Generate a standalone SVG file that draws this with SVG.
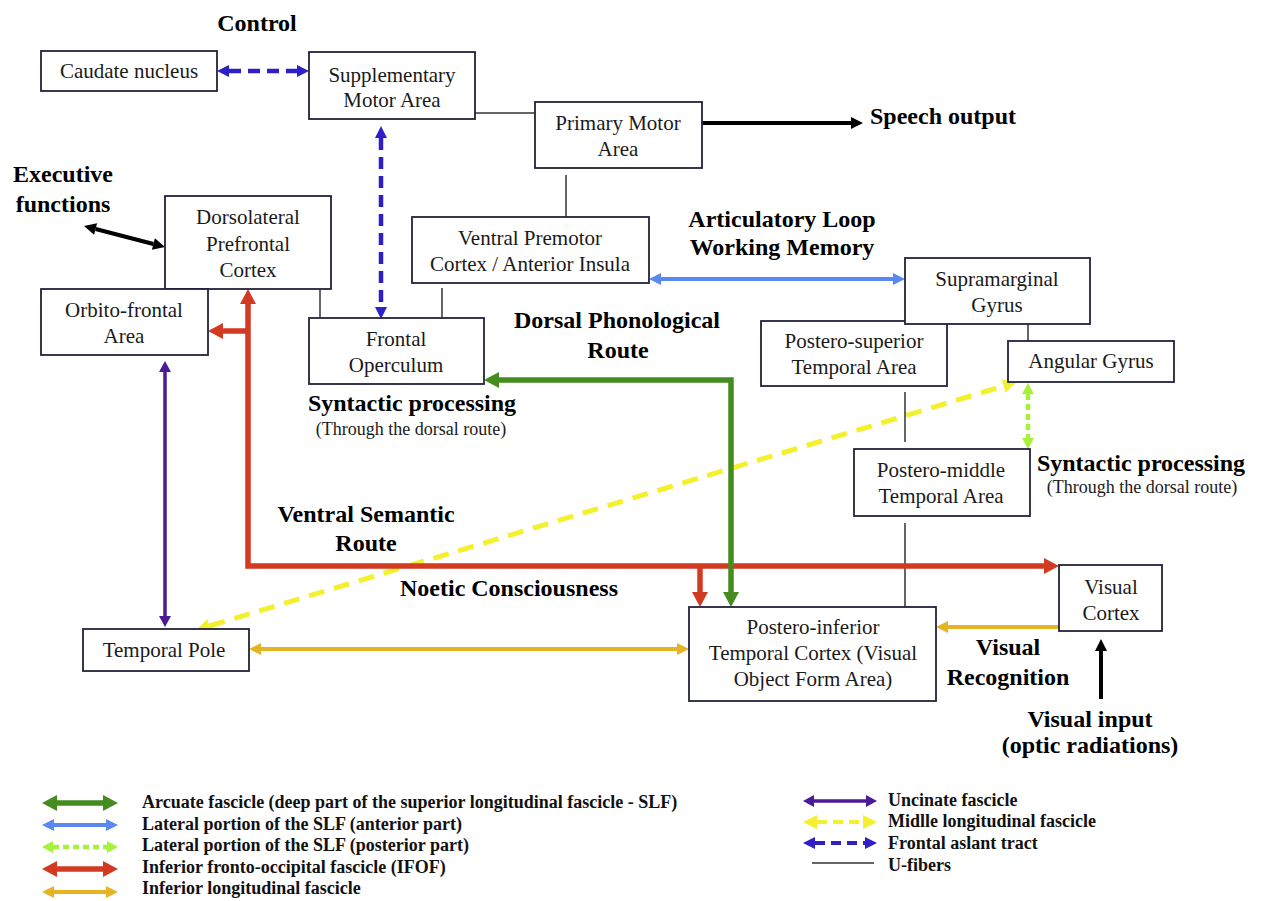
<svg xmlns="http://www.w3.org/2000/svg" width="1264" height="901" viewBox="0 0 1264 901">
<style>
.node rect{fill:#fff;stroke:#22223a;stroke-width:1.8}
.node text{font-family:"Liberation Serif","Times New Roman",serif;font-size:21px;fill:#1a1a1a;text-anchor:middle}
.lbl{font-family:"Liberation Serif","Times New Roman",serif;font-size:24px;font-weight:bold;fill:#000}
.sub{font-family:"Liberation Serif","Times New Roman",serif;font-size:18px;fill:#1a1a1a}
.leg{font-family:"Liberation Serif","Times New Roman",serif;font-size:18px;font-weight:bold;fill:#111}
.mid{text-anchor:middle}
.c{fill:none;stroke-linejoin:miter;stroke-linecap:butt}
.fat{stroke:#2e1fc8;stroke-width:4.5;stroke-dasharray:12 7}
.art{stroke:#5a88f2;stroke-width:4}
.lime{stroke:#a6f23a;stroke-width:4.5;stroke-dasharray:6 4}
.grn{stroke:#458c1e;stroke-width:5.5}
.red{stroke:#d23a22;stroke-width:5.5}
.ora{stroke:#e6b325;stroke-width:4}
.pur{stroke:#4d1a96;stroke-width:3.5}
.yel{stroke:#f4f02e;stroke-width:5;stroke-dasharray:16 10}
.blk{stroke:#000;stroke-width:4}
.uf{stroke:#333;stroke-width:1.5}
</style>
<defs>
<marker id="hFat" markerUnits="userSpaceOnUse" orient="auto-start-reverse" overflow="visible" refX="0" refY="0"><path d="M0,-6 L12,0 L0,6 z" fill="#2e1fc8"/></marker>
<marker id="hArt" markerUnits="userSpaceOnUse" orient="auto-start-reverse" overflow="visible" refX="0" refY="0"><path d="M0,-6 L12,0 L0,6 z" fill="#5a88f2"/></marker>
<marker id="hLime" markerUnits="userSpaceOnUse" orient="auto-start-reverse" overflow="visible" refX="0" refY="0"><path d="M0,-6 L11,0 L0,6 z" fill="#a6f23a"/></marker>
<marker id="hGrn" markerUnits="userSpaceOnUse" orient="auto-start-reverse" overflow="visible" refX="0" refY="0"><path d="M0,-8 L15,0 L0,8 z" fill="#458c1e"/></marker>
<marker id="hRed" markerUnits="userSpaceOnUse" orient="auto-start-reverse" overflow="visible" refX="0" refY="0"><path d="M0,-8 L15,0 L0,8 z" fill="#d23a22"/></marker>
<marker id="hOra" markerUnits="userSpaceOnUse" orient="auto-start-reverse" overflow="visible" refX="0" refY="0"><path d="M0,-6 L12,0 L0,6 z" fill="#e6b325"/></marker>
<marker id="hPur" markerUnits="userSpaceOnUse" orient="auto-start-reverse" overflow="visible" refX="0" refY="0"><path d="M0,-6 L11,0 L0,6 z" fill="#4d1a96"/></marker>
<marker id="hYel" markerUnits="userSpaceOnUse" orient="auto-start-reverse" overflow="visible" refX="0" refY="0"><path d="M0,-7 L14,0 L0,7 z" fill="#f4f02e"/></marker>
<marker id="hBlk" markerUnits="userSpaceOnUse" orient="auto-start-reverse" overflow="visible" refX="0" refY="0"><path d="M0,-6 L12,0 L0,6 z" fill="#000"/></marker>
</defs>
<rect width="1264" height="901" fill="#fff"/>

<g id="connectors">
  <line class="c yel" x1="209.4" y1="626" x2="1003.6" y2="386" marker-start="url(#hYel)" marker-end="url(#hYel)"/>
  <line class="c uf" x1="475" y1="113" x2="535" y2="113"/>
  <line class="c uf" x1="566" y1="175" x2="566" y2="217"/>
  <line class="c uf" x1="320" y1="289" x2="320" y2="318"/>
  <line class="c uf" x1="442" y1="288" x2="442" y2="318"/>
  <line class="c uf" x1="1028" y1="324" x2="1028" y2="341"/>
  <line class="c uf" x1="905" y1="392" x2="905" y2="442"/>
  <line class="c uf" x1="905" y1="523" x2="905" y2="607"/>
  <line class="c fat" x1="229" y1="71" x2="297" y2="71" marker-start="url(#hFat)" marker-end="url(#hFat)"/>
  <line class="c fat" x1="381" y1="138" x2="381" y2="307" marker-start="url(#hFat)" marker-end="url(#hFat)"/>
  <line class="c blk" x1="702" y1="123" x2="851" y2="123" marker-end="url(#hBlk)"/>
  <line class="c blk" x1="95.6" y1="229" x2="153.4" y2="244" marker-start="url(#hBlk)" marker-end="url(#hBlk)"/>
  <line class="c art" x1="661" y1="279" x2="893" y2="279" marker-start="url(#hArt)" marker-end="url(#hArt)"/>
  <line class="c lime" x1="1028" y1="394" x2="1028" y2="438" marker-start="url(#hLime)" marker-end="url(#hLime)"/>
  <line class="c pur" x1="165" y1="372" x2="165" y2="616" marker-start="url(#hPur)" marker-end="url(#hPur)"/>
  <path class="c red" d="M248,304 V566 H1044" marker-start="url(#hRed)" marker-end="url(#hRed)"/>
  <path class="c red" d="M248,331 H223" marker-end="url(#hRed)"/>
  <path class="c red" d="M700,566 V592" marker-end="url(#hRed)"/>
  <path class="c grn" d="M499,380 H731 V592" marker-start="url(#hGrn)" marker-end="url(#hGrn)"/>
  <line class="c ora" x1="261" y1="649" x2="677" y2="649" marker-start="url(#hOra)" marker-end="url(#hOra)"/>
  <line class="c ora" x1="1059" y1="627" x2="948" y2="627" marker-end="url(#hOra)"/>
  <line class="c blk" x1="1101" y1="699" x2="1101" y2="651" marker-end="url(#hBlk)"/>
</g>

<g id="caudate" class="node"><rect x="41" y="51" width="176" height="40"/><text x="129" y="78">Caudate nucleus</text></g>
<g id="sma" class="node"><rect x="309" y="52" width="166" height="67"/><text x="392" y="82">Supplementary</text><text x="392" y="107">Motor Area</text></g>
<g id="pma" class="node"><rect x="535" y="102" width="167" height="66"/><text x="618" y="130">Primary Motor</text><text x="618" y="156">Area</text></g>
<g id="vpc" class="node"><rect x="412" y="217" width="237" height="66"/><text x="530" y="245">Ventral Premotor</text><text x="530" y="271">Cortex / Anterior Insula</text></g>
<g id="dlpfc" class="node"><rect x="165" y="196" width="166" height="93"/><text x="248" y="224">Dorsolateral</text><text x="248" y="251">Prefrontal</text><text x="248" y="277">Cortex</text></g>
<g id="ofa" class="node"><rect x="41" y="289" width="167" height="66"/><text x="124" y="317">Orbito-frontal</text><text x="124" y="343">Area</text></g>
<g id="fo" class="node"><rect x="309" y="318" width="175" height="66"/><text x="396" y="346">Frontal</text><text x="396" y="372">Operculum</text></g>
<g id="psta" class="node"><rect x="761" y="321" width="186" height="65"/><text x="854" y="348">Postero-superior</text><text x="854" y="374">Temporal Area</text></g>
<g id="smg" class="node"><rect x="905" y="258" width="185" height="66"/><text x="997" y="286">Supramarginal</text><text x="997" y="312">Gyrus</text></g>
<g id="ag" class="node"><rect x="1008" y="341" width="166" height="41"/><text x="1091" y="368">Angular Gyrus</text></g>
<g id="pmta" class="node"><rect x="854" y="449" width="176" height="67"/><text x="941" y="477">Postero-middle</text><text x="941" y="503">Temporal Area</text></g>
<g id="vc" class="node"><rect x="1059" y="565" width="103" height="66"/><text x="1111" y="594">Visual</text><text x="1111" y="620">Cortex</text></g>
<g id="pitc" class="node"><rect x="689" y="607" width="247" height="94"/><text x="813" y="634">Postero-inferior</text><text x="813" y="660">Temporal Cortex (Visual</text><text x="813" y="686">Object Form Area)</text></g>
<g id="tp" class="node"><rect x="83" y="629" width="166" height="42"/><text x="164" y="657">Temporal Pole</text></g>

<g id="labels">
  <text class="lbl mid" x="257" y="31">Control</text>
  <text class="lbl" x="870" y="124">Speech output</text>
  <text class="lbl mid" x="63" y="182">Executive</text>
  <text class="lbl mid" x="63" y="212">functions</text>
  <text class="lbl mid" x="782" y="227">Articulatory Loop</text>
  <text class="lbl mid" x="782" y="255">Working Memory</text>
  <text class="lbl mid" x="617" y="328">Dorsal Phonological</text>
  <text class="lbl mid" x="618" y="358">Route</text>
  <text class="lbl mid" x="412" y="411">Syntactic processing</text>
  <text class="sub mid" x="411" y="435">(Through the dorsal route)</text>
  <text class="lbl mid" x="1141" y="471">Syntactic processing</text>
  <text class="sub mid" x="1142" y="493">(Through the dorsal route)</text>
  <text class="lbl mid" x="366" y="522">Ventral Semantic</text>
  <text class="lbl mid" x="366" y="551">Route</text>
  <text class="lbl mid" x="509" y="596">Noetic Consciousness</text>
  <text class="lbl mid" x="1008" y="655">Visual</text>
  <text class="lbl mid" x="1008" y="685">Recognition</text>
  <text class="lbl mid" x="1090" y="727">Visual input</text>
  <text class="lbl mid" x="1090" y="753">(optic radiations)</text>
</g>

<g id="legend">
  <line class="c grn" x1="57" y1="803" x2="103" y2="803" marker-start="url(#hGrn)" marker-end="url(#hGrn)"/>
  <line class="c art" x1="54" y1="825" x2="106" y2="825" marker-start="url(#hArt)" marker-end="url(#hArt)"/>
  <line class="c lime" x1="53" y1="847" x2="107" y2="847" marker-start="url(#hLime)" marker-end="url(#hLime)"/>
  <line class="c red" x1="57" y1="869" x2="103" y2="869" marker-start="url(#hRed)" marker-end="url(#hRed)"/>
  <line class="c ora" x1="54" y1="892" x2="106" y2="892" marker-start="url(#hOra)" marker-end="url(#hOra)"/>
  <text class="leg" x="142" y="808">Arcuate fascicle (deep part of the superior longitudinal fascicle - SLF)</text>
  <text class="leg" x="142" y="830">Lateral portion of the SLF (anterior part)</text>
  <text class="leg" x="142" y="851">Lateral portion of the SLF (posterior part)</text>
  <text class="leg" x="142" y="873">Inferior fronto-occipital fascicle (IFOF)</text>
  <text class="leg" x="142" y="894">Inferior longitudinal fascicle</text>
  <line class="c pur" x1="814" y1="801" x2="866" y2="801" marker-start="url(#hPur)" marker-end="url(#hPur)"/>
  <line class="c yel" style="stroke-width:4;stroke-dasharray:10 6" x1="817" y1="822" x2="863" y2="822" marker-start="url(#hYel)" marker-end="url(#hYel)"/>
  <line class="c fat" style="stroke-width:4;stroke-dasharray:10 6" x1="815" y1="843" x2="865" y2="843" marker-start="url(#hFat)" marker-end="url(#hFat)"/>
  <line class="c uf" x1="812" y1="863" x2="874" y2="863"/>
  <text class="leg" x="888" y="806">Uncinate fascicle</text>
  <text class="leg" x="888" y="827">Midlle longitudinal fascicle</text>
  <text class="leg" x="888" y="849">Frontal aslant tract</text>
  <text class="leg" x="888" y="871">U-fibers</text>
</g>
</svg>
